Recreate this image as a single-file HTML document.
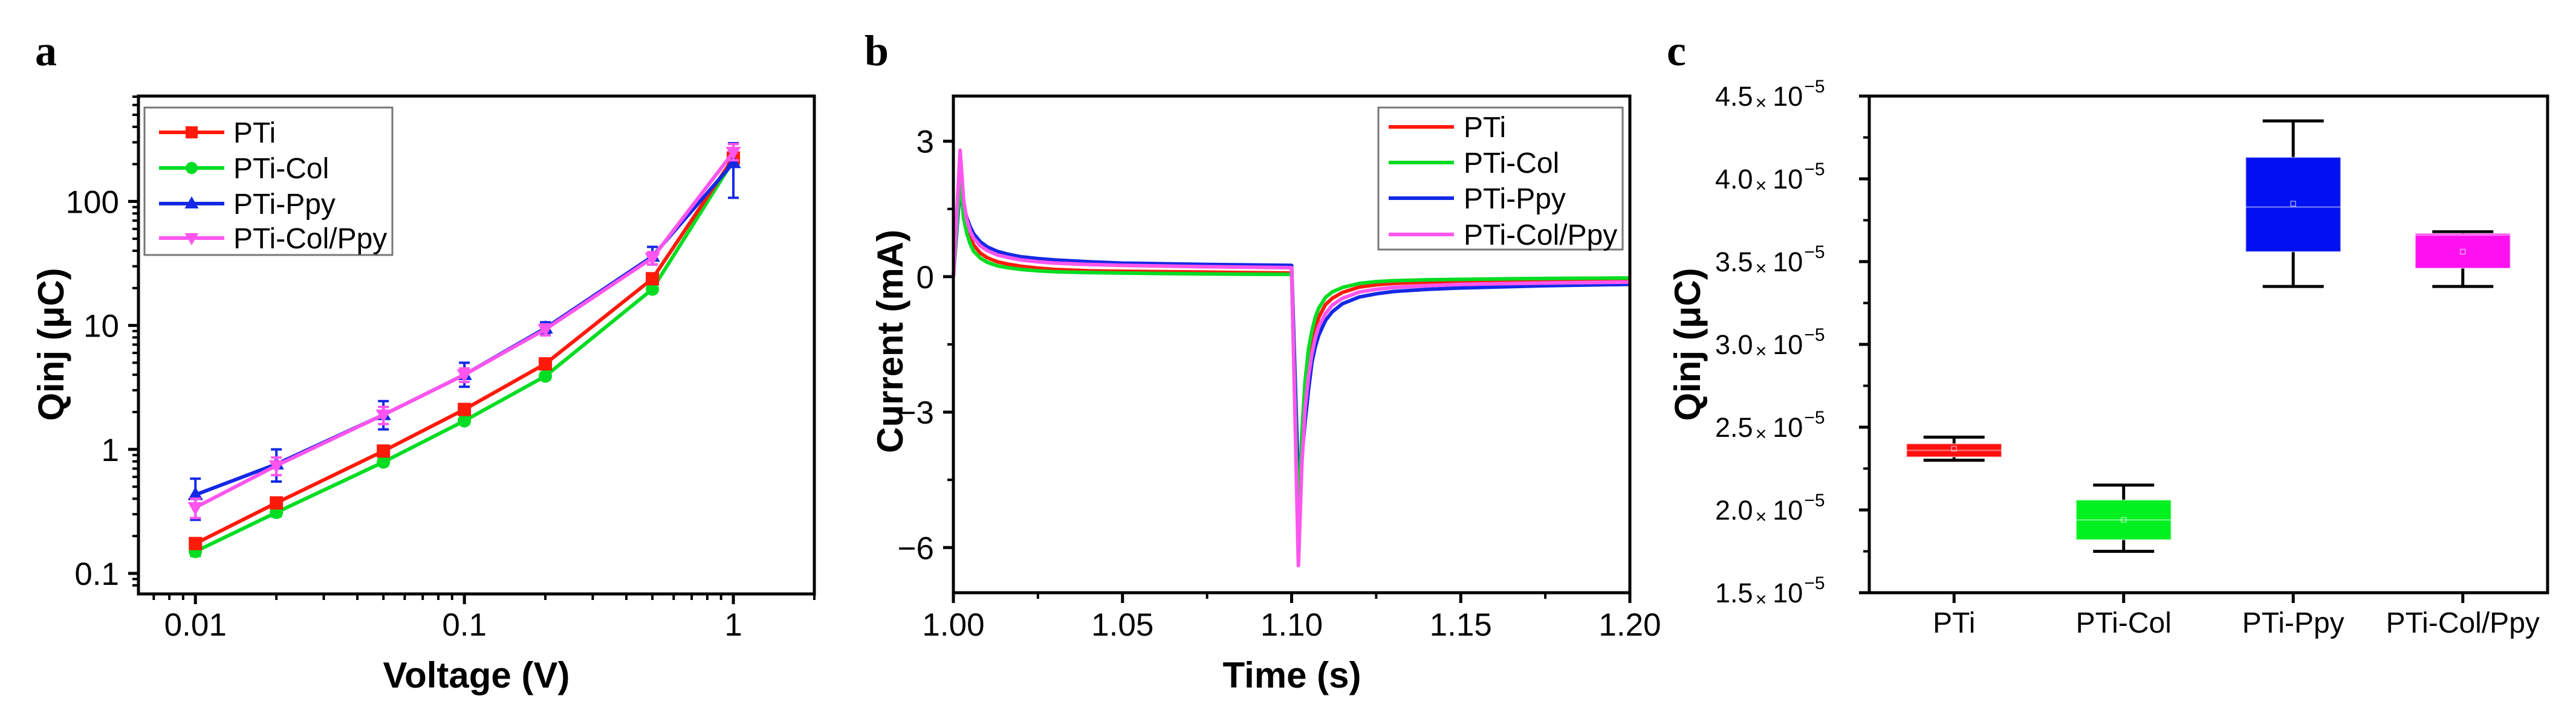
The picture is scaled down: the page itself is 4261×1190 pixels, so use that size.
<!DOCTYPE html>
<html><head><meta charset="utf-8">
<style>
html,body{margin:0;padding:0;background:#fff;}
svg{display:block;font-family:"Liberation Sans",Arial,sans-serif;}
</style></head>
<body>
<svg id="fig" width="4261" height="1190" viewBox="0 0 4261 1190" xmlns="http://www.w3.org/2000/svg">
<rect width="4261" height="1190" fill="#fff"/>
<g id="pa"></g>
<g id="pb"></g>
<g id="pc"></g>
</svg>
<script>
// ---------- Panel a data ----------
const aVoltages = [0.01, 0.02, 0.05, 0.1, 0.2, 0.5, 1];
const aPTi      = [0.174, 0.37, 0.97, 2.1, 4.9, 23.8, 224];
const aPTiCol   = [0.15, 0.31, 0.79, 1.7, 3.9, 19.6, 214];
const aPTiPpy   = [0.43, 0.76, 1.9, 4.0, 9.5, 36, 205];
const aPTiColPpy= [0.34, 0.74, 1.9, 4.0, 9.3, 35, 250];
const aPpyLow   = [0.27, 0.55, 1.45, 3.2, 8.4, 31, 107];
const aPpyHigh  = [0.58, 1.0, 2.45, 5.0, 10.6, 43, 295];
const aCPLow    = [0.28, 0.62, 1.6, 3.5, 8.3, 31, 215];
const aCPHigh   = [0.40, 0.86, 2.2, 4.5, 10.2, 39, 290];
const aRelErr   = [0.08, 0.07, 0.06, 0.06, 0.06, 0.06, 0.08];
const aXTicks = [0.01, 0.1, 1];
const aXTickLabels = ["0.01", "0.1", "1"];
const aYTicks = [0.1, 1, 10, 100];
const aYTickLabels = ["0.1", "1", "10", "100"];

// ---------- Panel b data ----------
const bTime      = [1.000,1.002,1.003,1.004,1.005,1.006,1.008,1.010,1.013,1.016,1.020,1.025,1.030,1.040,1.050,1.075,1.0995,1.100,1.102,1.103,1.104,1.105,1.106,1.107,1.108,1.110,1.112,1.115,1.120,1.125,1.130,1.140,1.150,1.175,1.200];
const bPTi       = [0,2.4,1.5,1.1,0.85,0.7,0.52,0.42,0.33,0.28,0.23,0.19,0.16,0.13,0.12,0.10,0.08,0.08,-5.8,-4.0,-2.8,-2.0,-1.5,-1.15,-0.9,-0.62,-0.48,-0.35,-0.23,-0.18,-0.15,-0.12,-0.10,-0.08,-0.07];
const bPTiCol    = [0,2.2,1.3,0.95,0.72,0.56,0.41,0.32,0.24,0.2,0.16,0.13,0.11,0.09,0.08,0.06,0.05,0.05,-5.6,-3.5,-2.3,-1.6,-1.2,-0.9,-0.7,-0.46,-0.34,-0.24,-0.15,-0.11,-0.09,-0.07,-0.06,-0.04,-0.03];
const bPTiPpy    = [0,2.0,1.6,1.3,1.1,0.95,0.77,0.66,0.56,0.5,0.44,0.40,0.37,0.33,0.30,0.27,0.25,0.25,-4.6,-4.0,-3.2,-2.5,-1.9,-1.55,-1.3,-0.97,-0.78,-0.6,-0.45,-0.38,-0.33,-0.28,-0.25,-0.20,-0.17];
const bPTiColPpy = [0,2.8,1.7,1.25,1.0,0.85,0.68,0.58,0.48,0.43,0.37,0.33,0.30,0.27,0.25,0.22,0.20,0.20,-6.4,-4.2,-2.9,-2.2,-1.7,-1.35,-1.1,-0.82,-0.63,-0.48,-0.34,-0.28,-0.24,-0.2,-0.17,-0.14,-0.12];
const bXTicks = [1.00, 1.05, 1.10, 1.15, 1.20];
const bXTickLabels = ["1.00", "1.05", "1.10", "1.15", "1.20"];
const bYTicks = [3, 0, -3, -6];
const bYTickLabels = ["3", "0", "\u22123", "\u22126"];

// ---------- Panel c data (units of 1e-5) ----------
const cCategories = ["PTi", "PTi-Col", "PTi-Ppy", "PTi-Col/Ppy"];
const cQ1     = [2.32, 1.82, 3.56, 3.46];
const cQ3     = [2.40, 2.06, 4.13, 3.67];
const cMedian = [2.36, 1.94, 3.83, 3.66];
const cMean   = [2.37, 1.94, 3.85, 3.56];
const cWLow   = [2.30, 1.75, 3.35, 3.35];
const cWHigh  = [2.44, 2.15, 4.35, 3.68];
const cYTicks = [1.5, 2.0, 2.5, 3.0, 3.5, 4.0, 4.5];
const cYTickLabels = ["1.5", "2.0", "2.5", "3.0", "3.5", "4.0", "4.5"];

const NS = "http://www.w3.org/2000/svg";
function mk(parent, tag, attrs, text){
  const e = document.createElementNS(NS, tag);
  for (const k in attrs) e.setAttribute(k, attrs[k]);
  if (text !== undefined) e.textContent = text;
  parent.appendChild(e);
  return e;
}
const colors = {red:"#ff1a0a", green:"#00dd22", blue:"#1428e6", pink:"#ff55ee"};

// ================= PANEL A =================
(function(){
  const g = document.getElementById('pa');
  const L=229,R=1347,T=159,B=983;
  const xmin=Math.log10(0.00614), xmax=Math.log10(2.0);
  const ymin=-1.166, ymax=2.85;
  const xa = v => L + (Math.log10(v)-xmin)/(xmax-xmin)*(R-L);
  const ya = v => B - (Math.log10(v)-ymin)/(ymax-ymin)*(B-T);

  let t = mk(g,'text',{x:58,y:108,'font-family':'"Liberation Serif",serif','font-weight':'bold','font-size':72});
  t.textContent='a';
  
  

  const xMinor=[0.007,0.008,0.009,0.02,0.03,0.04,0.05,0.06,0.07,0.08,0.09,0.2,0.3,0.4,0.5,0.6,0.7,0.8,0.9,2];
  xMinor.forEach(v=>{ const l=mk(g,'line',{x1:xa(v),x2:xa(v),y1:B,y2:B+10,stroke:'#000','stroke-width':4});
     });
  aXTicks.forEach((v,i)=>{
    const l=mk(g,'line',{x1:xa(v),x2:xa(v),y1:B,y2:B+17,stroke:'#000','stroke-width':5});
     
    const tx=mk(g,'text',{x:xa(v),y:1052,'text-anchor':'middle','font-size':53},aXTickLabels[i]);
     
  });
  const yMinor=[0.08,0.09,0.2,0.3,0.4,0.5,0.6,0.7,0.8,0.9,2,3,4,5,6,7,8,9,20,30,40,50,60,70,80,90,200,300,400,500,600,700];
  yMinor.forEach(v=>{ const l=mk(g,'line',{x1:L-10,x2:L,y1:ya(v),y2:ya(v),stroke:'#000','stroke-width':4});
     });
  aYTicks.forEach((v,i)=>{
    const l=mk(g,'line',{x1:L-17,x2:L,y1:ya(v),y2:ya(v),stroke:'#000','stroke-width':5});
     
    const tx=mk(g,'text',{x:L-32,y:ya(v)+19,'text-anchor':'end','font-size':53},aYTickLabels[i]);
     
  });

  const series=[
    {d:aPTiCol,c:colors.green,m:'circle',name:'series-pti-col'},
    {d:aPTi,c:colors.red,m:'square',name:'series-pti'},
    {d:aPTiPpy,c:colors.blue,m:'tri-up',name:'series-pti-ppy',lo:aPpyLow,hi:aPpyHigh},
    {d:aPTiColPpy,c:colors.pink,m:'tri-down',name:'series-pti-col-ppy',lo:aCPLow,hi:aCPHigh},
  ];
  function marker(p,m,x,y,c,s){
    if(m==='square') return mk(p,'rect',{x:x-s,y:y-s,width:2*s,height:2*s,fill:c});
    if(m==='circle') return mk(p,'circle',{cx:x,cy:y,r:s,fill:c});
    if(m==='tri-up') return mk(p,'polygon',{points:`${x},${y-s*1.2} ${x-s*1.15},${y+s*0.8} ${x+s*1.15},${y+s*0.8}`,fill:c});
    return mk(p,'polygon',{points:`${x},${y+s*1.2} ${x-s*1.15},${y-s*0.8} ${x+s*1.15},${y-s*0.8}`,fill:c});
  }
  series.forEach(s=>{
    const sg=mk(g,'g',{});
     
    s.d.forEach((v,i)=>{
      const lo = s.lo? s.lo[i] : v*(1-aRelErr[i]);
      const hi = s.hi? s.hi[i] : v*(1+aRelErr[i]);
      const x=xa(aVoltages[i]);
      const eb=mk(sg,'path',{d:`M${x},${ya(lo)}V${ya(hi)}M${x-9},${ya(lo)}H${x+9}M${x-9},${ya(hi)}H${x+9}`,stroke:s.c,'stroke-width':4,fill:'none'});
       
    });
    const pts=s.d.map((v,i)=>`${xa(aVoltages[i])},${ya(v)}`).join(' ');
    const pl=mk(sg,'polyline',{points:pts,fill:'none',stroke:s.c,'stroke-width':6});
     
    s.d.forEach((v,i)=>{
      const mm=marker(sg,s.m,xa(aVoltages[i]),ya(v),s.c,11);
       
    });
  });

  const fr=mk(g,'rect',{x:L,y:T,width:R-L,height:B-T,fill:'none',stroke:'#000','stroke-width':5});
   

  const lg=mk(g,'g',{});
   
  mk(lg,'rect',{x:239,y:178,width:410,height:244,fill:'#fff',stroke:'#777','stroke-width':3});
  const legItems=[['PTi',colors.red,'square',219],['PTi-Col',colors.green,'circle',278],['PTi-Ppy',colors.blue,'tri-up',337],['PTi-Col/Ppy',colors.pink,'tri-down',394]];
  legItems.forEach(it=>{
    const e=mk(lg,'g',{});
     
    mk(e,'line',{x1:263,x2:371,y1:it[3],y2:it[3],stroke:it[1],'stroke-width':6});
    marker(e,it[2],317,it[3],it[1],10);
    mk(e,'text',{x:386,y:it[3]+17,'font-size':48},it[0]);
  });

  let xt=mk(g,'text',{x:788,y:1138,'text-anchor':'middle','font-size':60,'font-weight':'bold'},'Voltage (V)');
   
  let yt=mk(g,'text',{x:0,y:0,'text-anchor':'middle','font-size':60,'font-weight':'bold',transform:'translate(105,570) rotate(-90)'},'Qinj (\u03bcC)');
   
})();

// ================= PANEL B =================
(function(){
  const g=document.getElementById('pb');
  const L=1577,R=2696,T=159,B=981;
  const xb=v=>L+(v-1.0)/0.2*(R-L);
  const yb=v=>B-(v-(-7))/11*(B-T);

  let t=mk(g,'text',{x:1430,y:108,'font-family':'"Liberation Serif",serif','font-weight':'bold','font-size':72},'b');
   

  [1.025,1.075,1.125,1.175].forEach(v=>{const l=mk(g,'line',{x1:xb(v),x2:xb(v),y1:B,y2:B+10,stroke:'#000','stroke-width':4});
     });
  bXTicks.forEach((v,i)=>{
    const l=mk(g,'line',{x1:xb(v),x2:xb(v),y1:B,y2:B+17,stroke:'#000','stroke-width':5});
     
    const tx=mk(g,'text',{x:xb(v),y:1052,'text-anchor':'middle','font-size':53},bXTickLabels[i]);
     
  });
  [1.5,-1.5,-4.5].forEach(v=>{const l=mk(g,'line',{x1:L-10,x2:L,y1:yb(v),y2:yb(v),stroke:'#000','stroke-width':4});
     });
  bYTicks.forEach((v,i)=>{
    const l=mk(g,'line',{x1:L-17,x2:L,y1:yb(v),y2:yb(v),stroke:'#000','stroke-width':5});
     
    const tx=mk(g,'text',{x:L-32,y:yb(v)+19,'text-anchor':'end','font-size':53},bYTickLabels[i]);
     
  });

  const series=[[bPTiPpy,colors.blue,'series-pti-ppy'],[bPTi,colors.red,'series-pti'],[bPTiCol,colors.green,'series-pti-col'],[bPTiColPpy,colors.pink,'series-pti-col-ppy']];
  series.forEach(s=>{
    const pts=s[0].map((v,i)=>`${xb(bTime[i])},${yb(v)}`).join(' ');
    const pl=mk(g,'polyline',{points:pts,fill:'none',stroke:s[1],'stroke-width':6,'stroke-linejoin':'round'});
     
  });

  const fr=mk(g,'rect',{x:L,y:T,width:R-L,height:B-T,fill:'none',stroke:'#000','stroke-width':5});
   

  const lg=mk(g,'g',{});
   
  mk(lg,'rect',{x:2280,y:178,width:404,height:235,fill:'#fff',stroke:'#777','stroke-width':3});
  [['PTi',colors.red,210],['PTi-Col',colors.green,269],['PTi-Ppy',colors.blue,328],['PTi-Col/Ppy',colors.pink,388]].forEach(it=>{
    const e=mk(lg,'g',{});
     
    mk(e,'line',{x1:2297,x2:2405,y1:it[2],y2:it[2],stroke:it[1],'stroke-width':6});
    mk(e,'text',{x:2421,y:it[2]+17,'font-size':48},it[0]);
  });

  let xt=mk(g,'text',{x:2137,y:1138,'text-anchor':'middle','font-size':60,'font-weight':'bold'},'Time (s)');
   
  let yt=mk(g,'text',{x:0,y:0,'text-anchor':'middle','font-size':60,'font-weight':'bold',transform:'translate(1493,565) rotate(-90)'},'Current (mA)');
   
})();

// ================= PANEL C =================
(function(){
  const g=document.getElementById('pc');
  const L=3092,R=4214,T=159,B=981;
  const xc=i=>L+(i+1-0.5)/4*(R-L);
  const yc=v=>B-(v-1.5)/3*(B-T);

  let t=mk(g,'text',{x:2757,y:108,'font-family':'"Liberation Serif",serif','font-weight':'bold','font-size':72},'c');
   

  [1.75,2.25,2.75,3.25,3.75,4.25].forEach(v=>{const l=mk(g,'line',{x1:L-10,x2:L,y1:yc(v),y2:yc(v),stroke:'#000','stroke-width':4});
     });
  cYTicks.forEach((v,i)=>{
    const l=mk(g,'line',{x1:L-17,x2:L,y1:yc(v),y2:yc(v),stroke:'#000','stroke-width':5});
     
    const tx=mk(g,'text',{x:2837,y:yc(v)+16,'font-size':45});
     
    mk(tx,'tspan',{},cYTickLabels[i]);
    mk(tx,'tspan',{dx:4,'font-size':32,dy:6},'\u00d7');
    mk(tx,'tspan',{dx:10,'font-size':45,dy:-6},'10');
    mk(tx,'tspan',{dx:2,'font-size':30,dy:-22},'\u22125');
  });

  const fills=['#ff1010','#00f020','#0010f0','#ff10f0'];
  const hw=0.28*(R-L)/4, cw=0.18*(R-L)/4;
  cCategories.forEach((c,i)=>{
    const x=xc(i);
    const l=mk(g,'line',{x1:x,x2:x,y1:B,y2:B+17,stroke:'#000','stroke-width':5});
     
    const tx=mk(g,'text',{x:x,y:1047,'text-anchor':'middle','font-size':48},c);
     

    const bg=mk(g,'g',{});
    
    
    mk(bg,'path',{d:`M${x},${yc(cWLow[i])}V${yc(cWHigh[i])}M${x-cw},${yc(cWLow[i])}H${x+cw}M${x-cw},${yc(cWHigh[i])}H${x+cw}`,stroke:'#000','stroke-width':5,fill:'none'});
    mk(bg,'rect',{x:x-hw,y:yc(cQ3[i]),width:2*hw,height:yc(cQ1[i])-yc(cQ3[i]),fill:fills[i],stroke:'rgba(255,255,255,0.45)','stroke-width':2});
    mk(bg,'line',{x1:x-hw,x2:x+hw,y1:yc(cMedian[i]),y2:yc(cMedian[i]),stroke:'rgba(255,255,255,0.5)','stroke-width':2});
    mk(bg,'rect',{x:x-4,y:yc(cMean[i])-4,width:8,height:8,fill:'none',stroke:'rgba(255,255,255,0.6)','stroke-width':1.5});
  });

  const fr=mk(g,'rect',{x:L,y:T,width:R-L,height:B-T,fill:'none',stroke:'#000','stroke-width':5});
   

  let yt=mk(g,'text',{x:0,y:0,'text-anchor':'middle','font-size':60,'font-weight':'bold',transform:'translate(2812,570) rotate(-90)'},'Qinj (\u03bcC)');
   
})();
</script>
</body></html>
